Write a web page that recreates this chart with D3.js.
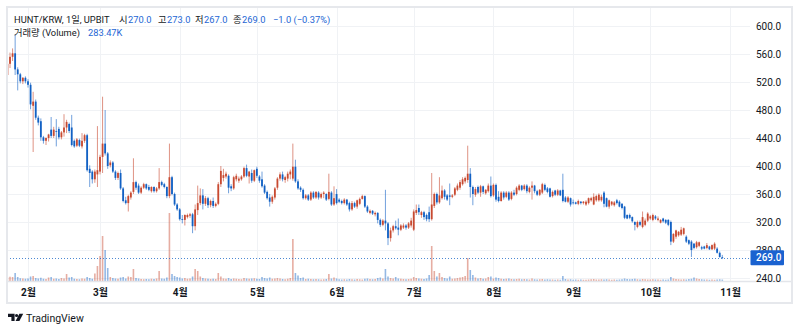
<!DOCTYPE html>
<html>
<head>
<meta charset="utf-8">
<script src="https://cdn.jsdelivr.net/npm/d3@7/dist/d3.min.js"></script>
<style>
  html, body { margin: 0; padding: 0; background: #ffffff; }
  svg { display: block; font-family: Roboto, "Noto Sans CJK KR", "Noto Sans", sans-serif; }
</style>
</head>
<body>
<svg id="chart" width="800" height="332"></svg>
<script>
// HUNT/KRW daily candles (UPBIT), one entry per day starting at startDate
const startDate = "2025-01-24";

const openPrice = [
  530,546,556,561,538,531,521,526,521,516,
  486,492,469,464,441,436,440,452,443,450,
  453,441,448,455,460,455,436,429,437,428,
  436,444,396,392,381,388,392,413,432,418,
  401,405,392,383,390,368,351,347,355,363,
  377,372,362,369,374,370,364,370,364,368,
  377,374,370,357,384,360,345,338,324,
  323,327,329,331,314,337,347,358,346,354,
  344,350,343,346,374,383,385,386,371,368,
  381,379,381,385,397,385,390,379,396,385,
  381,372,363,355,349,355,369,382,388,380,
  382,388,382,399,378,369,366,354,358,352,
  362,355,362,355,360,360,353,362,345,360,
  352,350,347,352,347,338,347,342,346,353,
  357,342,333,336,331,333,323,316,322,318,
  297,308,314,312,309,312,315,312,315,309,
  333,340,330,334,330,334,324,343,360,348,
  354,365,358,358,356,359,366,369,374,378,
  380,389,370,359,370,362,371,361,364,372,
  358,373,356,350,362,356,362,353,362,360,
  366,372,367,372,363,369,372,364,359,
  362,373,368,368,357,365,359,365,366,355,
  349,354,348,348,346,349,347,345,347,351,
  345,351,351,351,362,354,342,345,344,351,
  349,346,342,330,330,327,320,313,320,313,
  316,322,325,323,328,323,319,325,323,323,
  320,292,299,301,302,303,299,294,292,289,
  284,286,284,285,283,285,281,282,282,276,
  270
];

const highPrice = [
  552,562,568,588,541,533,527,528,524,519,
  506,495,472,468,443,441,446,470,456,467,
  456,450,474,466,462,473,438,440,439,447,
  446,446,401,394,395,457,416,499,480,420,
  408,407,394,392,395,370,356,359,364,411,
  379,375,371,376,375,373,371,371,370,397,
  379,376,371,432,386,362,347,340,330,
  331,332,333,333,345,372,368,367,357,356,
  352,355,348,377,400,396,392,388,374,386,
  389,385,387,399,402,393,395,395,399,387,
  392,374,365,360,358,370,384,391,392,386,
  392,395,432,409,381,371,368,360,360,364,
  364,364,364,362,364,361,389,364,371,367,
  354,352,354,353,349,350,349,352,355,359,
  358,344,338,337,335,334,325,324,366,320,
  312,316,322,325,317,318,317,320,326,338,
  345,345,336,336,332,342,390,362,362,384,
  372,367,360,375,360,370,375,380,384,385,
  429,397,372,370,372,373,372,367,375,385,
  375,375,364,364,364,364,364,364,366,371,
  374,373,374,374,371,378,373,366,367,
  376,375,370,369,365,366,367,366,389,357,
  357,355,352,349,352,350,350,351,355,356,
  361,359,361,359,364,355,352,350,350,353,
  351,347,343,331,332,328,321,322,322,335,
  325,334,330,332,330,328,324,326,324,324,
  322,304,309,307,313,312,301,295,294,290,
  293,292,286,286,290,286,288,291,284,278,
  273
];

const lowPrice = [
  524,540,550,530,508,518,517,518,512,481,
  420,466,458,436,432,430,435,440,440,428,
  438,438,442,447,447,428,426,427,427,425,
  433,392,370,375,376,370,388,390,415,396,
  398,390,380,380,366,348,345,335,352,360,
  366,360,360,367,366,364,362,362,362,366,
  371,368,354,354,358,343,336,322,318,
  315,325,326,304,308,330,344,338,343,340,
  341,340,341,344,370,378,382,361,364,366,
  378,376,379,383,384,375,376,377,383,376,
  369,360,352,342,346,352,366,379,378,376,
  378,381,379,376,366,363,352,352,350,350,
  353,353,352,353,354,350,351,343,343,345,
  347,345,345,343,335,336,340,339,344,352,
  340,333,331,330,328,318,313,314,308,287,
  292,305,309,301,307,310,309,310,312,307,
  330,330,326,323,321,320,322,340,345,346,
  352,352,350,344,354,357,364,366,372,375,
  376,355,344,356,360,356,360,359,362,355,
  356,349,348,349,352,354,350,351,357,358,
  364,364,365,361,361,352,361,357,357,
  360,364,361,355,355,357,357,357,348,348,
  347,342,345,345,344,345,345,343,345,349,
  344,349,349,349,341,341,339,343,342,345,
  341,338,324,324,324,319,308,311,314,311,
  314,320,323,321,323,321,318,319,317,314,
  287,290,296,299,300,301,290,287,270,281,
  282,284,280,281,281,280,280,280,275,269,
  267
];

const closePrice = [
  546,556,561,538,531,521,526,521,516,488,
  492,469,462,441,436,440,445,443,452,449,
  441,448,455,463,450,430,428,438,429,436,
  444,394,390,381,392,394,413,432,418,400,
  405,392,383,390,368,350,347,357,362,377,
  369,362,369,374,368,366,370,364,368,377,
  373,370,357,384,360,345,338,324,323,
  330,330,331,314,338,347,358,346,354,344,
  350,343,346,374,393,387,389,369,368,384,
  386,382,385,397,386,392,379,394,386,379,
  371,362,354,349,356,368,382,388,381,384,
  389,392,399,378,368,366,354,358,352,362,
  355,363,355,360,362,352,363,345,354,347,
  349,347,352,345,338,347,342,351,353,357,
  342,335,336,332,333,323,316,322,318,297,
  308,314,311,309,315,315,312,318,322,335,
  337,334,334,327,324,324,345,360,348,358,
  365,356,352,356,358,368,372,377,381,383,
  389,370,360,367,362,371,363,366,372,357,
  373,352,350,362,355,362,352,362,359,369,
  372,366,372,364,369,372,364,359,366,
  374,366,363,356,363,359,365,358,350,349,
  355,345,347,346,350,347,349,349,354,354,
  356,357,359,356,346,342,351,349,348,347,
  342,340,326,325,326,321,316,320,316,327,
  322,332,328,330,325,325,323,321,319,316,
  292,303,308,306,309,311,292,289,280,283,
  291,291,282,282,287,281,287,289,276,270,
  269
];

// daily volume, thousands of HUNT
const volumeK = [
  700,850,800,1600,800,550,500,450,500,900,
  1000,600,500,650,450,400,700,800,450,500,
  400,600,500,1400,700,800,450,400,350,500,
  450,800,600,450,1500,3000,5000,9000,6200,2600,
  800,600,500,450,700,800,500,900,800,2400,
  600,500,400,350,400,350,450,400,500,2000,
  500,450,700,13600,1400,1000,800,700,500,600,
  450,500,900,2400,2000,900,600,500,450,400,
  450,400,1600,900,500,450,600,400,500,450,
  400,350,600,500,450,500,550,450,400,800,
  600,500,700,450,500,600,500,400,350,450,
  600,8400,1600,1100,600,700,400,450,400,350,
  400,350,300,350,400,1400,500,700,500,350,
  300,350,300,400,350,300,400,350,300,450,
  500,400,350,400,600,700,500,2400,900,600,
  500,800,500,450,400,350,400,450,800,600,
  500,450,400,500,1200,7000,2000,900,1600,800,
  600,500,900,450,500,600,700,800,1000,4600,
  2200,1200,700,500,600,450,500,800,900,500,
  700,600,450,400,450,500,400,350,400,450,
  350,400,350,300,500,350,300,350,400,300,
  350,300,300,250,300,250,1000,400,300,350,
  250,300,250,300,250,250,300,350,400,300,
  300,350,300,350,300,250,300,250,300,350,
  500,400,350,400,450,350,300,400,350,300,
  300,350,300,300,250,300,250,300,800,500,
  400,350,300,350,300,400,450,700,500,400,
  350,300,300,250,300,250,300,350,283.47
];

const priceTicks = [600, 560, 520, 480, 440, 400, 360, 320, 280, 240];
const monthTicks = ["2025-02-01","2025-03-01","2025-04-01","2025-05-01","2025-06-01",
                    "2025-07-01","2025-08-01","2025-09-01","2025-10-01","2025-11-01"];
const monthLabels = ["2월","3월","4월","5월","6월","7월","8월","9월","10월","11월"];

const UP = "#c84a31", DOWN = "#1261c4", TEXT = "#131722", NUM = "#2466d4";
const parse = d3.timeParse("%Y-%m-%d");

const svg = d3.select("#chart");
const pane = { left: 7, right: 750, top: 7, bottom: 281 };

const n = Math.min(openPrice.length, highPrice.length, lowPrice.length, closePrice.length, volumeK.length);
const start = parse(startDate);
const candles = d3.range(n).map(i => ({
  date: d3.timeDay.offset(start, i),
  o: openPrice[i], h: highPrice[i], l: lowPrice[i], c: closePrice[i], v: volumeK[i]
}));

const x = d3.scaleTime()
  .domain([parse(monthTicks[0]), parse(monthTicks[monthTicks.length - 1])])
  .range([28, 730]);
const y = d3.scaleLinear().domain([240, 600]).range([278, 26]);
const yVol = d3.scaleLinear().domain([0, d3.max(candles, d => d.v)]).range([pane.bottom, pane.bottom - 68]);

svg.append("rect").attr("width", 800).attr("height", 332).attr("fill", "#ffffff");

svg.append("clipPath").attr("id", "pane-clip")
  .append("rect")
  .attr("x", pane.left).attr("y", pane.top)
  .attr("width", pane.right - pane.left).attr("height", pane.bottom - pane.top);

// grid
const grid = svg.append("g").attr("stroke", "#f0f2f5").attr("stroke-width", 1);
grid.selectAll("line.h").data(priceTicks).join("line").attr("class", "h")
  .attr("x1", pane.left).attr("x2", pane.right)
  .attr("y1", d => Math.round(y(d)) + 0.5).attr("y2", d => Math.round(y(d)) + 0.5);
grid.selectAll("line.v").data(monthTicks.map(parse)).join("line").attr("class", "v")
  .attr("x1", d => Math.round(x(d)) + 0.5).attr("x2", d => Math.round(x(d)) + 0.5)
  .attr("y1", pane.top).attr("y2", pane.bottom);

const plot = svg.append("g").attr("clip-path", "url(#pane-clip)");

// volume
plot.append("g").selectAll("rect").data(candles).join("rect")
  .attr("x", d => x(d.date) - 0.8)
  .attr("width", 1.6)
  .attr("y", d => yVol(d.v))
  .attr("height", d => pane.bottom - yVol(d.v))
  .attr("fill", d => d.c >= d.o ? UP : DOWN)
  .attr("fill-opacity", 0.45);

// wicks
plot.append("g").selectAll("line").data(candles).join("line")
  .attr("x1", d => x(d.date)).attr("x2", d => x(d.date))
  .attr("y1", d => y(d.h)).attr("y2", d => y(d.l))
  .attr("stroke", d => d.c >= d.o ? UP : DOWN)
  .attr("stroke-opacity", 0.6)
  .attr("stroke-width", 1);

// bodies
plot.append("g").selectAll("rect").data(candles).join("rect")
  .attr("x", d => x(d.date) - 0.9)
  .attr("width", 1.8)
  .attr("y", d => y(Math.max(d.o, d.c)))
  .attr("height", d => Math.max(0.8, Math.abs(y(d.o) - y(d.c))))
  .attr("fill", d => d.c >= d.o ? UP : DOWN);

// last price line
const last = candles[n - 1];
const prev = candles[n - 2];
const lastColor = last.c >= last.o ? UP : DOWN;
svg.append("line")
  .attr("x1", pane.left).attr("x2", pane.right)
  .attr("y1", Math.round(y(last.c)) + 0.5).attr("y2", Math.round(y(last.c)) + 0.5)
  .attr("stroke", lastColor).attr("stroke-opacity", 0.75)
  .attr("stroke-dasharray", "1,2");

// frame and time-axis separator
svg.append("line")
  .attr("x1", pane.left).attr("x2", 792)
  .attr("y1", pane.bottom + 0.5).attr("y2", pane.bottom + 0.5)
  .attr("stroke", "#e3e5ea").attr("stroke-width", 1.5);
svg.append("rect")
  .attr("x", 7).attr("y", 7).attr("width", 785).attr("height", 296)
  .attr("fill", "none").attr("stroke", "#e6e8ec").attr("stroke-width", 2);

// price axis
const fmt1 = d3.format(".1f");
svg.append("g")
  .attr("transform", `translate(${pane.right},0)`)
  .call(d3.axisRight(y).tickValues(priceTicks).tickFormat(fmt1).tickSize(0).tickPadding(6))
  .call(g => g.select(".domain").remove())
  .call(g => g.attr("font-family", null).attr("font-size", null))
  .selectAll("text")
  .attr("font-size", 10).attr("fill", TEXT);

// last price tag, drawn over the axis label it covers
const tagY = y(last.c);
svg.append("rect")
  .attr("x", 750.5).attr("y", tagY - 7.5).attr("width", 33.5).attr("height", 15)
  .attr("rx", 1).attr("fill", "#1a62d0");
svg.append("text")
  .attr("x", 756).attr("y", tagY).attr("dy", "0.35em")
  .attr("font-size", 10).attr("font-weight", 500).attr("fill", "#ffffff")
  .text(fmt1(last.c));

// time axis
svg.append("g")
  .attr("transform", `translate(0,${pane.bottom})`)
  .call(d3.axisBottom(x).tickValues(monthTicks.map(parse))
    .tickFormat((d, i) => monthLabels[i]).tickSize(0).tickPadding(8))
  .call(g => g.select(".domain").remove())
  .call(g => g.attr("font-family", null).attr("font-size", null))
  .selectAll("text")
  .attr("font-size", 10).attr("font-weight", 700).attr("fill", TEXT);

// legend
const change = last.c - prev.c;
const pct = change / prev.c * 100;
const fmt2 = d3.format(".2f");
const line1 = [
  { t: "HUNT/KRW, 1일, UPBIT", x: 14, c: TEXT },
  { t: "시", x: 119, c: TEXT }, { t: fmt1(last.o), x: 128, c: NUM },
  { t: "고", x: 158, c: TEXT }, { t: fmt1(last.h), x: 167, c: NUM },
  { t: "저", x: 195, c: TEXT }, { t: fmt1(last.l), x: 204, c: NUM },
  { t: "종", x: 233, c: TEXT }, { t: fmt1(last.c), x: 242, c: NUM },
  { t: `${d3.format(".1f")(change)} (${fmt2(pct)}%)`, x: 273, c: NUM }
];
const line2 = [
  { t: "거래량 (Volume)", x: 14, c: TEXT },
  { t: `${fmt2(last.v)}K`, x: 88, c: NUM }
];
svg.append("g").selectAll("text").data(line1).join("text")
  .attr("x", d => d.x).attr("y", 23)
  .attr("font-size", 9.3).attr("fill", d => d.c).text(d => d.t);
svg.append("g").selectAll("text").data(line2).join("text")
  .attr("x", d => d.x).attr("y", 36)
  .attr("font-size", 9.3).attr("fill", d => d.c).text(d => d.t);

// TradingView mark
const logo = svg.append("g").attr("fill", TEXT);
logo.append("path").attr("d", "M8 313.8 H14.6 V321 H11.4 V317 H8 Z");
logo.append("circle").attr("cx", 16.6).attr("cy", 315.5).attr("r", 1.6);
logo.append("path").attr("d", "M15.6 321 L19.4 313.8 H23.2 L19.4 321 Z");
svg.append("text")
  .attr("x", 26).attr("y", 321.5)
  .attr("font-size", 10.5).attr("fill", TEXT)
  .text("TradingView");
</script>
</body>
</html>
